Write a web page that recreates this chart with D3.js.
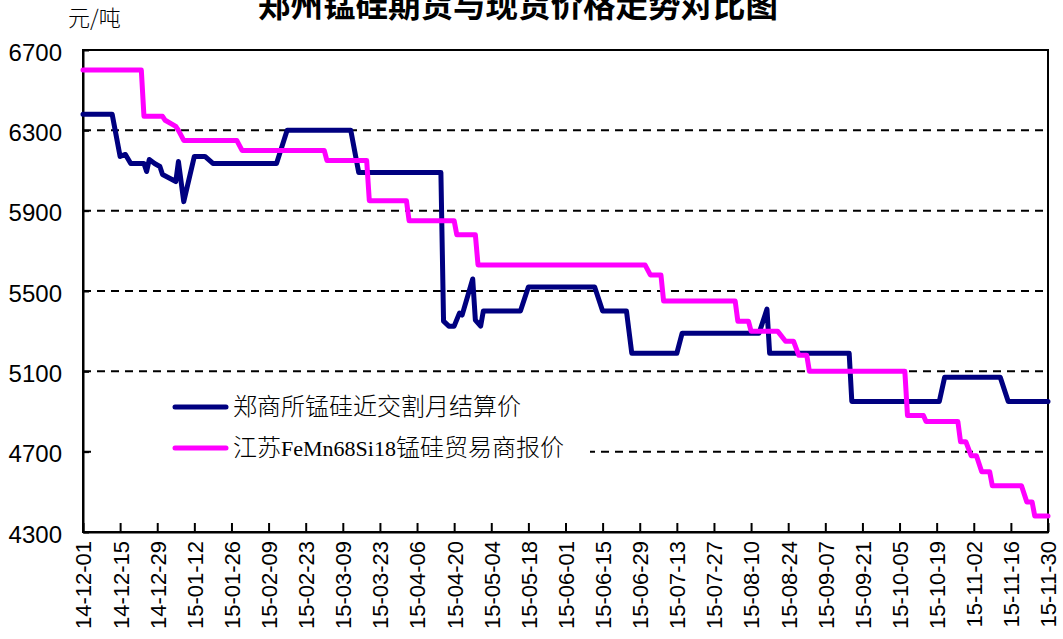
<!DOCTYPE html>
<html>
<head>
<meta charset="utf-8">
<script src="https://cdn.jsdelivr.net/npm/d3@7"></script>
<style>
  html, body { margin: 0; padding: 0; background: #fff; }
  svg { display: block; }
</style>
</head>
<body>
<svg id="chart" width="1063" height="639"></svg>
<script>
// ---------- data ----------
const chartTitle = "郑州锰硅期货与现货价格走势对比图";
const unitLabel = "元/吨";
const seriesNames = ["郑商所锰硅近交割月结算价", "江苏FeMn68Si18锰硅贸易商报价"];

const yTicks = [4300, 4700, 5100, 5500, 5900, 6300, 6700];
const xTickLabels = ["14-12-01","14-12-15","14-12-29","15-01-12","15-01-26","15-02-09","15-02-23",
  "15-03-09","15-03-23","15-04-06","15-04-20","15-05-04","15-05-18","15-06-01","15-06-15",
  "15-06-29","15-07-13","15-07-27","15-08-10","15-08-24","15-09-07","15-09-21","15-10-05",
  "15-10-19","15-11-02","15-11-16","15-11-30"];

// 郑商所锰硅近交割月结算价
const futuresDates = ["2014-12-01","2014-12-12","2014-12-15","2014-12-17","2014-12-19","2014-12-24",
  "2014-12-25","2014-12-26","2014-12-28","2014-12-30","2014-12-31","2015-01-05","2015-01-06",
  "2015-01-08","2015-01-12","2015-01-16","2015-01-19","2015-02-12","2015-02-16","2015-03-12",
  "2015-03-15","2015-04-15","2015-04-16","2015-04-18","2015-04-20","2015-04-22","2015-04-23",
  "2015-04-27","2015-04-28","2015-04-30","2015-05-01","2015-05-15","2015-05-18","2015-06-12",
  "2015-06-15","2015-06-24","2015-06-26","2015-07-13","2015-07-15","2015-08-13","2015-08-16",
  "2015-08-17","2015-09-16","2015-09-17","2015-10-20","2015-10-22","2015-11-12","2015-11-15",
  "2015-11-30"];
const futuresValues = [6380,6380,6170,6180,6135,6135,
  6095,6155,6135,6120,6080,6045,6145,
  5945,6170,6170,6135,6135,6300,6300,
  6090,6090,5350,5325,5325,5390,5380,
  5560,5355,5325,5400,5400,5520,5520,
  5400,5400,5190,5190,5290,5290,5410,
  5190,5190,4950,4950,5070,5070,4950,
  4950];

// 江苏FeMn68Si18锰硅贸易商报价
const spotDates = ["2014-12-01","2014-12-23","2014-12-24","2014-12-31","2015-01-01","2015-01-05",
  "2015-01-06","2015-01-08","2015-01-28","2015-01-30","2015-03-02","2015-03-03","2015-03-18",
  "2015-03-19","2015-04-02","2015-04-03","2015-04-20","2015-04-21","2015-04-28","2015-04-29",
  "2015-07-01","2015-07-03","2015-07-07","2015-07-08","2015-08-04","2015-08-05","2015-08-09",
  "2015-08-10","2015-08-20","2015-08-23","2015-08-26","2015-08-28","2015-08-31","2015-09-01",
  "2015-10-07","2015-10-08","2015-10-14","2015-10-15","2015-10-27","2015-10-28","2015-10-30",
  "2015-11-01","2015-11-03","2015-11-05","2015-11-08","2015-11-09","2015-11-20","2015-11-22",
  "2015-11-24","2015-11-25","2015-11-30"];
const spotValues = [6600,6600,6370,6370,6350,6320,
  6300,6250,6250,6200,6200,6150,6150,
  5950,5950,5850,5850,5780,5780,5630,
  5630,5580,5580,5450,5450,5350,5350,
  5300,5300,5250,5250,5180,5180,5100,
  5100,4880,4880,4850,4850,4750,4750,
  4680,4680,4600,4600,4530,4530,4450,
  4450,4380,4380];

// ---------- drawing ----------
const parseDate = d3.timeParse("%Y-%m-%d");
const parseTick = d3.timeParse("%y-%m-%d");
const fmtTick = d3.timeFormat("%y-%m-%d");

const futures = futuresDates.map((d, i) => ({ date: parseDate(d), value: futuresValues[i] }));
const spot = spotDates.map((d, i) => ({ date: parseDate(d), value: spotValues[i] }));
const xTickDates = xTickLabels.map(parseTick);

const svg = d3.select("#chart");
const pLeft = 83, pRight = 1048, pTop = 50, pBottom = 532;

const x = d3.scaleTime()
  .domain([xTickDates[0], xTickDates[xTickDates.length - 1]])
  .range([pLeft, pRight]);
const y = d3.scaleLinear().domain([4300, 6700]).range([pBottom, pTop]);

// gridlines
svg.append("g").selectAll("line")
  .data(yTicks.filter(v => v !== 4300 && v !== 6700))
  .join("line")
  .attr("x1", pLeft).attr("x2", pRight)
  .attr("y1", d => y(d)).attr("y2", d => y(d))
  .attr("stroke", "#000").attr("stroke-width", 2)
  .attr("stroke-dasharray", "8,6");

// frame
svg.append("rect")
  .attr("x", pLeft).attr("y", pTop)
  .attr("width", pRight - pLeft).attr("height", pBottom - pTop)
  .attr("fill", "none").attr("stroke", "#000").attr("stroke-width", 2);

// y axis
const yAxis = svg.append("g")
  .attr("transform", `translate(${pLeft},0)`)
  .call(d3.axisLeft(y).tickValues(yTicks).tickSize(-6).tickSizeOuter(0).tickPadding(21)
    .tickFormat(d3.format("d")));
yAxis.select(".domain").attr("stroke", "#000").attr("stroke-width", 2);
yAxis.selectAll(".tick line").attr("stroke", "#000").attr("stroke-width", 2);
yAxis.selectAll(".tick text")
  .attr("font-family", "'Liberation Sans', Arial, sans-serif")
  .attr("font-size", 24).attr("fill", "#000").attr("dy", "0.42em");

// x axis
const xAxis = svg.append("g")
  .attr("transform", `translate(0,${pBottom})`)
  .call(d3.axisBottom(x).tickValues(xTickDates).tickSize(-9).tickSizeOuter(0)
    .tickFormat(fmtTick));
xAxis.select(".domain").attr("stroke", "#000").attr("stroke-width", 2);
xAxis.selectAll(".tick line").attr("stroke", "#000").attr("stroke-width", 2);
xAxis.selectAll(".tick text")
  .attr("font-family", "'Liberation Sans', Arial, sans-serif")
  .attr("font-size", 22).attr("fill", "#000")
  .attr("transform", "rotate(-90)")
  .attr("text-anchor", "end")
  .attr("x", -9).attr("y", 0).attr("dy", "0.36em");

// lines
const line = d3.line().x(d => x(d.date)).y(d => y(d.value));
svg.append("path").datum(futures).attr("d", line)
  .attr("fill", "none").attr("stroke", "#000080").attr("stroke-width", 5)
  .attr("stroke-linejoin", "round").attr("stroke-linecap", "round");
svg.append("path").datum(spot).attr("d", line)
  .attr("fill", "none").attr("stroke", "#FF00FF").attr("stroke-width", 5)
  .attr("stroke-linejoin", "round").attr("stroke-linecap", "round");

// legend
const lg = svg.append("g");
lg.append("rect").attr("x", 92).attr("y", 384).attr("width", 498).attr("height", 86).attr("fill", "#fff");
const legendColors = ["#000080", "#FF00FF"];
const legendY = [407, 448];
seriesNames.forEach((name, i) => {
  lg.append("line").attr("x1", 175).attr("x2", 226)
    .attr("y1", legendY[i]).attr("y2", legendY[i])
    .attr("stroke", legendColors[i]).attr("stroke-width", 5).attr("stroke-linecap", "round");
  const t = lg.append("text").attr("x", 233).attr("y", legendY[i] + 8)
    .attr("font-family", "'Noto Sans CJK SC', sans-serif").attr("font-size", 24)
    .attr("font-weight", 300).attr("fill", "#000");
  const parts = name.match(/[A-Za-z0-9]+|[^A-Za-z0-9]+/g);
  parts.forEach(p => {
    const isLatin = /^[A-Za-z0-9]+$/.test(p);
    t.append("tspan").text(p)
      .attr("font-family", isLatin ? "'Liberation Serif', serif" : "'Noto Sans CJK SC', sans-serif")
      .attr("font-size", isLatin ? 22 : 24);
  });
});

// title & unit
svg.append("text").attr("x", 518).attr("y", 17).attr("text-anchor", "middle")
  .attr("font-family", "'Noto Sans CJK SC', sans-serif").attr("font-size", 32.5)
  .attr("font-weight", "bold").attr("fill", "#000").text(chartTitle);
svg.append("text").attr("x", 68).attr("y", 26)
  .attr("font-family", "'Noto Sans CJK SC', sans-serif").attr("font-size", 22)
  .attr("font-weight", 300).attr("fill", "#000").text(unitLabel);
</script>
</body>
</html>
